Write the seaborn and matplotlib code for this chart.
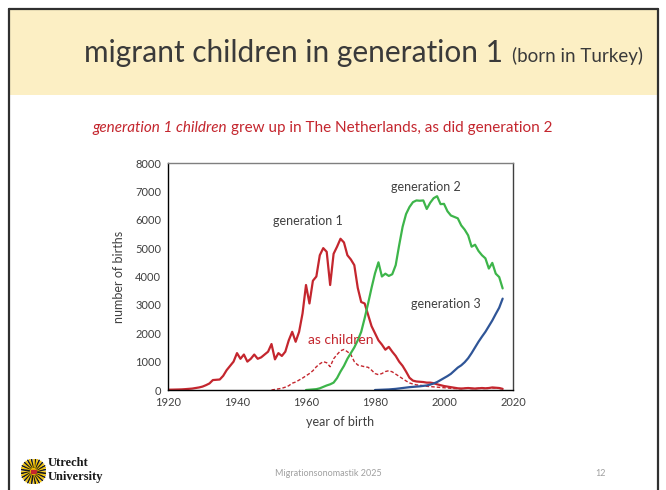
import numpy as np
import pandas as pd
import matplotlib.pyplot as plt
import matplotlib.patches as mpatches
import seaborn as sns

# data (births per year of birth)
years_gen1 = list(range(1920, 2018))
gen1 = [10, 12, 15, 18, 22, 30, 40, 50, 70, 90,
        120, 170, 230, 350, 360, 370, 500, 700, 850, 1000,
        1300, 1100, 1250, 1000, 1100, 1250, 1100, 1150, 1250, 1350,
        1620, 1080, 1300, 1200, 1350, 1750, 2050, 1700, 2050, 2700,
        3700, 3050, 3850, 4000, 4750, 5000, 4870, 3700, 4800, 5050,
        5330, 5200, 4750, 4600, 4400, 3600, 3100, 3050, 2650, 2250,
        2000, 1750, 1600, 1420, 1520, 1350, 1200, 1000, 850, 650,
        430, 330, 300, 290, 280, 260, 260, 240, 200, 170,
        140, 120, 100, 80, 60, 50, 60, 70, 60, 50,
        60, 70, 60, 70, 90, 80, 70, 40]

years_child = list(range(1950, 2018))
gen1_children = [0, 20, 40, 60, 100, 150, 240, 280, 350, 420,
                 500, 580, 680, 820, 920, 1000, 960, 820, 1100, 1250,
                 1380, 1430, 1350, 1250, 1000, 880, 850, 820, 800, 700,
                 580, 540, 580, 650, 680, 640, 560, 480, 400, 320,
                 250, 210, 180, 170, 150, 130, 120, 110, 100, 90,
                 80, 70, 60, 50, 50, 50, 60, 60, 50, 50,
                 60, 60, 50, 60, 70, 70, 60, 40]

years_gen2 = list(range(1960, 2018))
gen2 = [0, 10, 20, 30, 60, 110, 160, 200, 260, 420,
        650, 850, 1100, 1300, 1500, 1750, 2050, 2530, 3050, 3600,
        4110, 4500, 4000, 4100, 4020, 4080, 4400, 5100, 5750, 6200,
        6450, 6620, 6680, 6670, 6680, 6380, 6600, 6760, 6830, 6550,
        6560, 6300, 6150, 6100, 6050, 5800, 5650, 5450, 5050, 5120,
        4900, 4750, 4640, 4280, 4480, 4100, 3980, 3580]

years_gen3 = list(range(1980, 2018))
gen3 = [0, 5, 10, 15, 20, 30, 40, 55, 70, 85,
        100, 110, 120, 130, 145, 160, 190, 230, 280, 350,
        420, 490, 570, 680, 790, 870, 980, 1120, 1300, 1500,
        1700, 1880, 2050, 2250, 2450, 2680, 2900, 3220]

RED = '#C4262E'
GREEN = '#3DB54A'
BLUE = '#2F5597'
TXT = '#404040'

df = pd.concat([
    pd.DataFrame({'year': years_gen1, 'births': gen1, 'series': 'generation 1'}),
    pd.DataFrame({'year': years_child, 'births': gen1_children, 'series': 'as children'}),
    pd.DataFrame({'year': years_gen2, 'births': gen2, 'series': 'generation 2'}),
    pd.DataFrame({'year': years_gen3, 'births': gen3, 'series': 'generation 3'}),
])

sns.set_style("white")
plt.rcParams['font.family'] = ['Lato', 'DejaVu Sans']

fig = plt.figure(figsize=(6.66, 4.9), dpi=100)
renderer = fig.canvas.get_renderer()

# slide decoration: yellow title band and frame
fig.patches.append(mpatches.Rectangle((9 / 666, 1 - 95 / 490), 649 / 666, 86 / 490,
                                      transform=fig.transFigure, facecolor='#FCEFC4',
                                      edgecolor='none', zorder=0))
for xs, ys in [([9, 9], [0, 481]), ([658, 658], [0, 481]), ([9, 658], [481, 481])]:
    fig.add_artist(plt.Line2D([x / 666 for x in xs], [y / 490 for y in ys],
                              color='#303030', lw=1.6, transform=fig.transFigure))

# title: big part, then smaller part placed right after it
t2 = fig.text(643 / 666, 1 - 62 / 490, '(born in Turkey)', ha='right', va='baseline',
              fontsize=13.5, color='#3A3A3A')
bb = t2.get_window_extent(renderer)
fig.text(bb.x0 / 666 - 9 / 666, 1 - 62 / 490, 'migrant children in generation 1',
         ha='right', va='baseline', fontsize=21.5, color='#3A3A3A')

# subtitle: italic part, then regular part
s1 = fig.text(92 / 666, 1 - 128 / 490, 'generation 1 children', ha='left', va='center',
              fontsize=11, color=RED, style='italic')
bb = s1.get_window_extent(renderer)
fig.text(bb.x1 / 666 + 4 / 666, 1 - 128 / 490,
         'grew up in The Netherlands, as did generation 2',
         ha='left', va='center', fontsize=11, color=RED)

ax = fig.add_axes([168 / 666, 100 / 490, 345 / 666, 227 / 490])
palette = {'generation 1': RED, 'as children': RED, 'generation 2': GREEN, 'generation 3': BLUE}
dashes = {'generation 1': '', 'as children': (2.5, 1.5), 'generation 2': '', 'generation 3': ''}
sns.lineplot(data=df, x='year', y='births', hue='series', style='series', palette=palette,
             dashes=dashes, linewidth=1.6, legend=False, ax=ax)
# children dashed line drawn thinner
for line in ax.lines:
    if line.get_linestyle() not in ('-', 'solid'):
        line.set_linewidth(1.0)

ax.set_xlim(1920, 2020)
ax.set_ylim(0, 8000)
ax.set_xticks(range(1920, 2021, 20))
ax.set_yticks(range(0, 8001, 1000))
ax.tick_params(direction='in', length=4, width=0.8, labelsize=8, colors='black',
               labelcolor=TXT, pad=5)
ax.set_xlabel('year of birth', fontsize=9, color=TXT, labelpad=6)
ax.set_ylabel('number of births', fontsize=9, color=TXT, labelpad=7)
for side in ('left', 'bottom'):
    ax.spines[side].set_color('black')
    ax.spines[side].set_linewidth(1.0)
ax.spines['top'].set_color('#7F7F7F')
ax.spines['right'].set_color('#404040')
ax.spines['top'].set_linewidth(1.0)
ax.spines['right'].set_linewidth(1.0)

ax.text(1950.5, 5970, 'generation 1', fontsize=9, color=TXT, va='center')
ax.text(1984.5, 7170, 'generation 2', fontsize=9, color=TXT, va='center')
ax.text(1990.5, 3020, 'generation 3', fontsize=9, color=TXT, va='center')
ax.text(1960.5, 1760, 'as children', fontsize=10, color=RED, va='center')

# footer: logo, event name, page number
logo = fig.add_axes([21 / 666, 1 - 484 / 490, 25 / 666, 25 / 490])
logo.set_xlim(-1, 1)
logo.set_ylim(-1, 1)
logo.set_aspect('equal')
logo.axis('off')
ang = np.linspace(0, 2 * np.pi, 40, endpoint=False)
for i, a in enumerate(ang):
    logo.plot([0.35 * np.cos(a), np.cos(a)], [0.35 * np.sin(a), np.sin(a)],
              color='#1A1A1A' if i % 2 else '#F2C200', lw=1.2)
logo.add_patch(mpatches.Circle((0, 0), 0.42, color='#F2C200'))
logo.add_patch(mpatches.Rectangle((-0.18, -0.15), 0.36, 0.3, color='#C4262E'))

fig.text(48 / 666, 1 - 463 / 490, 'Utrecht', fontsize=9, fontweight='bold',
         family='Liberation Serif', color='#1A1A1A', va='center')
fig.text(48 / 666, 1 - 477 / 490, 'University', fontsize=9, fontweight='bold',
         family='Liberation Serif', color='#1A1A1A', va='center')
fig.text(328 / 666, 1 - 473 / 490, 'Migrationsonomastik 2025', fontsize=6.5,
         color='#A0A0A0', ha='center', va='center')
fig.text(601 / 666, 1 - 473 / 490, '12', fontsize=6.5, color='#A0A0A0',
         ha='center', va='center')

fig.savefig('out.png', dpi=100)
